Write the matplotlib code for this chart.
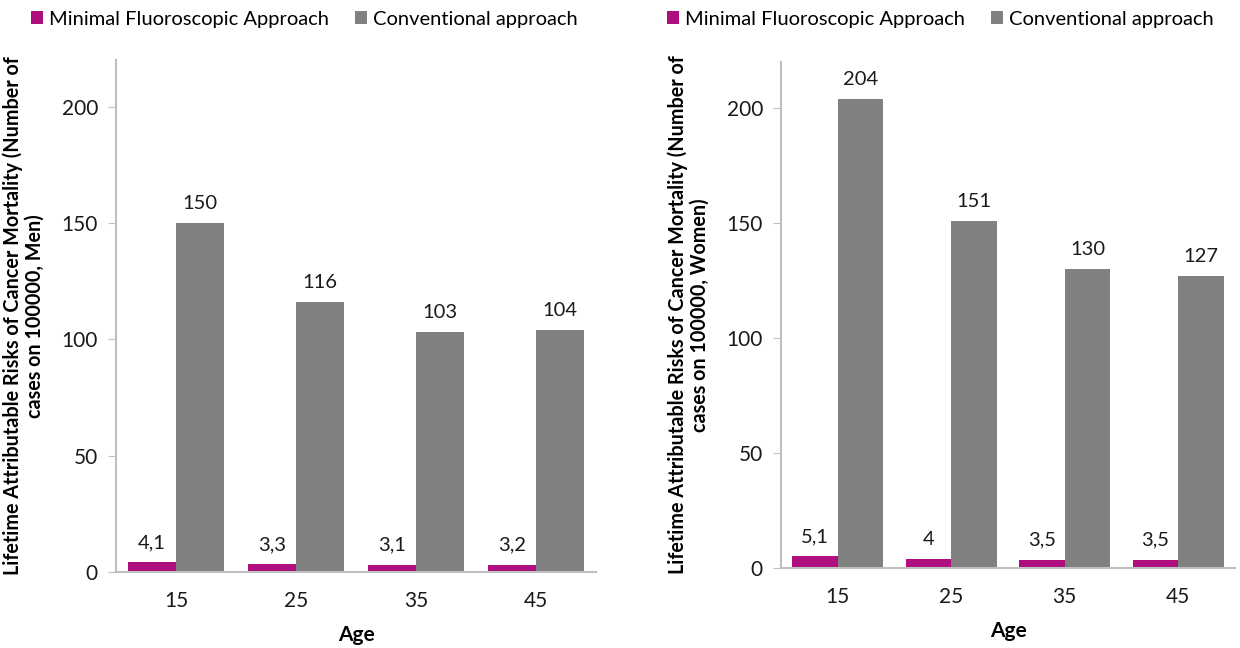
import matplotlib
matplotlib.use("Agg")
import matplotlib.pyplot as plt
from matplotlib.patches import Patch
import numpy as np

plt.rcParams['font.family'] = ['Lato', 'DejaVu Sans']

ages = ["15", "25", "35", "45"]
men_minimal = [4.1, 3.3, 3.1, 3.2]
men_conventional = [150, 116, 103, 104]
women_minimal = [5.1, 4.0, 3.5, 3.5]
women_conventional = [204, 151, 130, 127]
series_names = ["Minimal Fluoroscopic Approach", "Conventional approach"]
ylabel_men = "Lifetime Attributable Risks of Cancer Mortality (Number of\ncases on 100000, Men)"
ylabel_women = "Lifetime Attributable Risks of Cancer Mortality (Number of\ncases on 100000, Women)"
yticks = [0, 50, 100, 150, 200]

MAG = "#AE0E7E"
GRAY = "#808080"
AXC = "#BFBFBF"

W, H = 1240, 648
fig = plt.figure(figsize=(W / 100, H / 100), dpi=100)


def fmt(v):
    s = f"{v:g}"
    return s.replace(".", ",")


def panel(rect, minimal, conventional, ylabel, legend_x):
    ax = fig.add_axes(rect)
    x = np.arange(len(ages))
    bw = 0.4
    b1 = ax.bar(x - bw / 2, minimal, bw, color=MAG, linewidth=0)
    b2 = ax.bar(x + bw / 2, conventional, bw, color=GRAY, linewidth=0)
    for bars, vals in ((b1, minimal), (b2, conventional)):
        for b, v in zip(bars, vals):
            ax.annotate(fmt(v), (b.get_x() + b.get_width() / 2, b.get_height()),
                        xytext=(0, 8), textcoords="offset points",
                        ha="center", va="bottom", fontsize=14.5, color="#1a1a1a")
    ax.set_xlim(-0.5, len(ages) - 0.5)
    ax.set_ylim(0, 220)
    ax.set_yticks(yticks)
    ax.set_xticks(x)
    ax.set_xticklabels(ages)
    ax.tick_params(axis="y", length=6, color=AXC, labelsize=15, pad=7, labelcolor="#1a1a1a")
    ax.tick_params(axis="x", length=0, labelsize=15, pad=14, labelcolor="#1a1a1a")
    for s in ("top", "right"):
        ax.spines[s].set_visible(False)
    for s in ("left", "bottom"):
        ax.spines[s].set_color(AXC)
        ax.spines[s].set_linewidth(1.5)
    ax.set_xlabel("Age", fontsize=15, fontweight="bold", labelpad=10)
    ax.set_ylabel(ylabel, fontsize=14.2, fontweight="bold", labelpad=12, linespacing=1.15)
    handles = [Patch(facecolor=MAG, edgecolor="none"), Patch(facecolor=GRAY, edgecolor="none")]
    fig.legend(handles, series_names, loc="center left",
               bbox_to_anchor=(legend_x / W, 1 - 19 / H), ncol=2, frameon=False,
               fontsize=14.5, handlelength=0.6, handleheight=0.6, handletextpad=0.3,
               columnspacing=1.3, borderaxespad=0, borderpad=0)
    return ax


panel([116 / W, (H - 572) / H, 480 / W, 512 / H], men_minimal, men_conventional, ylabel_men, 31)
panel([781 / W, (H - 568) / H, 454 / W, 506 / H], women_minimal, women_conventional, ylabel_women, 667)

fig.savefig("out.png", dpi=100)
